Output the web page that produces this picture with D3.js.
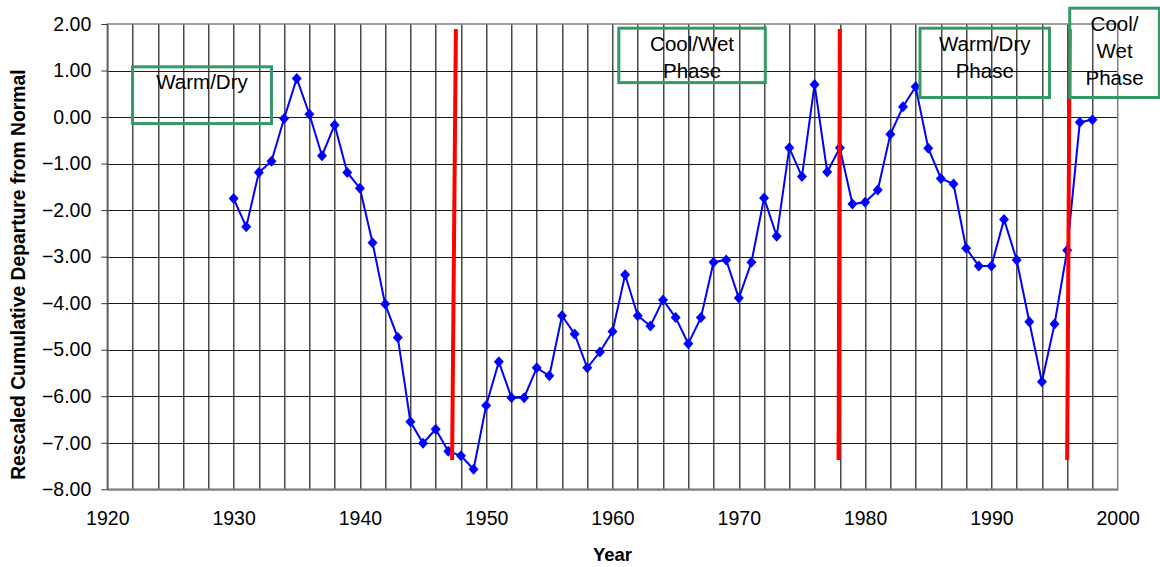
<!DOCTYPE html>
<html>
<head>
<meta charset="utf-8">
<script src="https://cdn.jsdelivr.net/npm/d3@7"></script>
<style>
  body { margin: 0; background: #fff; }
  text { font-family: "Liberation Sans", Arial, sans-serif; }
</style>
</head>
<body>
<div id="chart"></div>
<script>
// data
var years = [1930, 1931, 1932, 1933, 1934, 1935, 1936, 1937, 1938, 1939,
             1940, 1941, 1942, 1943, 1944, 1945, 1946, 1947, 1948, 1949,
             1950, 1951, 1952, 1953, 1954, 1955, 1956, 1957, 1958, 1959,
             1960, 1961, 1962, 1963, 1964, 1965, 1966, 1967, 1968, 1969,
             1970, 1971, 1972, 1973, 1974, 1975, 1976, 1977, 1978, 1979,
             1980, 1981, 1982, 1983, 1984, 1985, 1986, 1987, 1988, 1989,
             1990, 1991, 1992, 1993, 1994, 1995, 1996, 1997, 1998];
var departure = [-1.75, -2.36, -1.19, -0.95, -0.03, 0.83, 0.06, -0.83, -0.17, -1.19,
                 -1.53, -2.70, -4.02, -4.74, -6.55, -7.01, -6.71, -7.18, -7.28, -7.57,
                 -6.20, -5.26, -6.03, -6.03, -5.39, -5.56, -4.27, -4.66, -5.39, -5.05,
                 -4.61, -3.39, -4.27, -4.49, -3.93, -4.31, -4.87, -4.31, -3.12, -3.07,
                 -3.89, -3.12, -1.74, -2.56, -0.66, -1.28, 0.70, -1.18, -0.66, -1.87,
                 -1.83, -1.57, -0.37, 0.22, 0.65, -0.67, -1.32, -1.44, -2.82, -3.20,
                 -3.20, -2.20, -3.07, -4.40, -5.69, -4.45, -2.86, -0.11, -0.06];

var xTicks = [1920, 1930, 1940, 1950, 1960, 1970, 1980, 1990, 2000];
var yTicks = [2, 1, 0, -1, -2, -3, -4, -5, -6, -7, -8];

// phase change lines (year at top, year at bottom, value range)
var breakTop = [1947.6, 1978.0, 1996.2];
var breakBottom = [1947.3, 1977.9, 1996.0];
var breakRange = [1.89, -7.37];

// phase label boxes in data units
var phaseText = [["Warm/Dry"], ["Cool/Wet", "Phase"], ["Warm/Dry", "Phase"], ["Cool/", "Wet", "Phase"]];
var phaseX0 = [1922.0, 1960.5, 1984.35, 1996.2];
var phaseX1 = [1933.0, 1972.1, 1994.6, 2003.3];
var phaseY0 = [1.08, 1.91, 1.91, 2.34];
var phaseY1 = [-0.14, 0.74, 0.42, 0.42];

var margin = {top: 24, right: 42.3, bottom: 77.7, left: 107.3},
    width = 1160 - margin.left - margin.right,
    height = 567 - margin.top - margin.bottom;

var svg = d3.select("#chart")
  .append("svg")
    .attr("width", 1160)
    .attr("height", 567)
  .append("g")
    .attr("transform", "translate(" + margin.left + "," + margin.top + ")");

var x = d3.scaleLinear().domain([1920, 2000]).range([0, width]);
var y = d3.scaleLinear().domain([-8, 2]).range([height, 0]);

// gridlines: every 2 years, every 1.00
svg.append("g")
  .selectAll("line")
  .data(d3.range(1922, 2000, 2))
  .enter()
  .append("line")
  .attr("x1", function(d){ return Math.round(x(d)) + 0.5 })
  .attr("x2", function(d){ return Math.round(x(d)) + 0.5 })
  .attr("y1", 0)
  .attr("y2", height)
  .style("stroke", "#1a1a1a")
  .style("stroke-width", 1.2);

svg.append("g")
  .selectAll("line")
  .data(yTicks.filter(function(d){ return d > -8 && d < 2 }))
  .enter()
  .append("line")
  .attr("x1", 0)
  .attr("x2", width)
  .attr("y1", function(d){ return Math.round(y(d)) + 0.5 })
  .attr("y2", function(d){ return Math.round(y(d)) + 0.5 })
  .style("stroke", "#1a1a1a")
  .style("stroke-width", 1.2);

// plot frame
svg.append("rect")
  .attr("x", 0)
  .attr("y", 0)
  .attr("width", width)
  .attr("height", height)
  .style("fill", "none")
  .style("stroke", "#808080")
  .style("stroke-width", 1.5);

// y axis
var yAxis = svg.append("g")
  .call(d3.axisLeft(y).tickValues(yTicks).tickSize(6).tickSizeOuter(0).tickFormat(d3.format(".2f")));
yAxis.select(".domain").style("stroke", "#555").style("stroke-width", 1.5);
yAxis.selectAll(".tick line").style("stroke", "#333");
yAxis.selectAll("text")
  .attr("x", -16)
  .attr("font-size", "19.5px")
  .attr("font-family", "Liberation Sans, Arial, sans-serif")
  .attr("fill", "#000");

// x axis
var xAxis = svg.append("g")
  .attr("transform", "translate(0," + height + ")")
  .call(d3.axisBottom(x).tickValues(xTicks).tickSize(0).tickFormat(d3.format("d")));
xAxis.select(".domain").style("stroke", "#808080").style("stroke-width", 2);
xAxis.selectAll("text")
  .attr("y", 22)
  .attr("font-size", "19.5px")
  .attr("font-family", "Liberation Sans, Arial, sans-serif")
  .attr("fill", "#000");

// axis titles
svg.append("text")
  .attr("x", width / 2)
  .attr("y", height + 72)
  .attr("text-anchor", "middle")
  .attr("font-size", "18.5px")
  .attr("font-weight", "bold")
  .text("Year");

svg.append("text")
  .attr("transform", "translate(" + (-82) + "," + (height / 2 + 18) + ") rotate(-90)")
  .attr("text-anchor", "middle")
  .attr("font-size", "19.3px")
  .attr("font-weight", "bold")
  .text("Rescaled Cumulative Departure from Normal");

// series line
var line = d3.line()
  .x(function(d, i){ return x(years[i]) })
  .y(function(d){ return y(d) });

svg.append("path")
  .datum(departure)
  .attr("d", line)
  .style("fill", "none")
  .style("stroke", "#0000ff")
  .style("stroke-width", 2);

svg.selectAll("marks")
  .data(departure)
  .enter()
  .append("path")
  .attr("transform", function(d, i){ return "translate(" + x(years[i]) + "," + y(d) + ")" })
  .attr("d", "M0,-5.5L5,0L0,5.5L-5,0Z")
  .style("fill", "#0000ff");

// phase change lines
svg.selectAll("breaks")
  .data(breakTop)
  .enter()
  .append("line")
  .attr("x1", function(d){ return x(d) })
  .attr("x2", function(d, i){ return x(breakBottom[i]) })
  .attr("y1", y(breakRange[0]))
  .attr("y2", y(breakRange[1]))
  .style("stroke", "#ff0000")
  .style("stroke-width", 4);

// phase boxes
var boxes = svg.selectAll("phase")
  .data(phaseText)
  .enter()
  .append("g");

boxes.append("rect")
  .attr("x", function(d, i){ return x(phaseX0[i]) })
  .attr("y", function(d, i){ return y(phaseY0[i]) })
  .attr("width", function(d, i){ return x(phaseX1[i]) - x(phaseX0[i]) })
  .attr("height", function(d, i){ return y(phaseY1[i]) - y(phaseY0[i]) })
  .style("fill", "none")
  .style("stroke", "#339966")
  .style("stroke-width", 3);

boxes.each(function(d, i){
  var cx = (x(phaseX0[i]) + x(phaseX1[i])) / 2;
  var top = y(phaseY0[i]);
  d3.select(this).selectAll("text")
    .data(d)
    .enter()
    .append("text")
    .attr("x", cx)
    .attr("y", function(t, j){ return top + 22.5 + j * 27.3 })
    .attr("text-anchor", "middle")
    .attr("font-size", "20.5px")
    .attr("fill", "#000")
    .text(function(t){ return t });
});
</script>
</body>
</html>
